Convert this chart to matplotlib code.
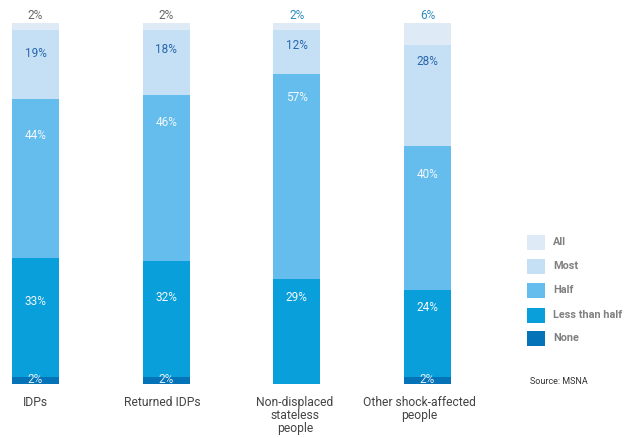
import matplotlib.pyplot as plt
from matplotlib.patches import Rectangle

plt.rcParams['font.family'] = ['Roboto', 'DejaVu Sans']

groups = ['IDPs', 'Returned IDPs', 'Non-displaced\nstateless\npeople', 'Other shock-affected\npeople']
levels = ['None', 'Less than half', 'Half', 'Most', 'All']
none_ = [2, 2, 0, 2]
less_half = [33, 32, 29, 24]
half = [44, 46, 57, 40]
most = [19, 18, 12, 28]
all_ = [2, 2, 2, 6]
source = 'Source: MSNA'

colors = ['#0573b7', '#089fdb', '#64bdec', '#c5e0f5', '#dfeaf7']
series = [none_, less_half, half, most, all_]

# pixel offset of the in-bar label below each segment's top (Less than half, Half, Most)
label_drop = {1: [44, 36, 18, 17], 2: [37, 27, 24, 29], 3: [23, 19, 15, 17]}
label_colors = {1: '#f2f8fd', 2: '#f2f8fd', 3: '#2766ad'}
top_colors = ['#666666', '#666666', '#2b8bbf', '#2b8bbf']
name_shift = [0, -4, -2, -8]  # px nudge of the category names

W, H = 625, 438
fig = plt.figure(figsize=(W / 100, H / 100), dpi=100)
bar_top, bar_bot = 23, 384
step = 130.67
x0 = 35.5
ax = fig.add_axes([0, (H - bar_bot) / H, 500 / W, (bar_bot - bar_top) / H])
ax.set_xlim(-x0 / step, (500 - x0) / step)
ax.set_ylim(0, 100)
ax.axis('off')

px = (bar_bot - bar_top) / 100.0  # pixels per percent
xs = list(range(len(groups)))
bottoms = [0] * len(groups)
for k, vals in enumerate(series):
    ax.bar(xs, vals, bottom=bottoms, width=47 / step, color=colors[k], linewidth=0)
    for i, v in enumerate(vals):
        seg_top = bottoms[i] + v
        if k in label_drop and v > 0:
            y = seg_top - label_drop[k][i] / px
            ax.text(i, y, f'{v}%', ha='center', va='center', fontsize=8.5,
                    color=label_colors[k])
        elif k == 0 and v > 0:
            ax.text(i, bottoms[i] + v / 2 + 0.3, f'{v}%', ha='center', va='center',
                    fontsize=8.5, color='#e3eff9')
        elif k == 4:
            ax.text(i, 100 + 7 / px, f'{v}%', ha='center', va='center', fontsize=8.5,
                    color=top_colors[i], clip_on=False)
    bottoms = [b + v for b, v in zip(bottoms, vals)]

for i, g in enumerate(groups):
    ax.text(i + name_shift[i] / step, -(396 - bar_bot) / px, g, ha='center', va='top',
            fontsize=8.7, color='#444444', linespacing=1.0, clip_on=False)

# legend, top entry first
leg_y = [242, 266, 290, 315, 338]
for j, k in enumerate(range(len(levels) - 1, -1, -1)):
    yc = leg_y[j]
    fig.patches.append(Rectangle((527 / W, (H - yc - 7.5) / H), 18 / W, 15 / H,
                                 transform=fig.transFigure, color=colors[k], lw=0))
    fig.text(553 / W, (H - yc) / H, levels[k], ha='left', va='center', fontsize=7.8,
             color='#808080', fontweight='bold')
fig.text(530 / W, (H - 381) / H, source, ha='left', va='center', fontsize=6.5,
         color='#333333')

fig.savefig('out.png', dpi=100)
